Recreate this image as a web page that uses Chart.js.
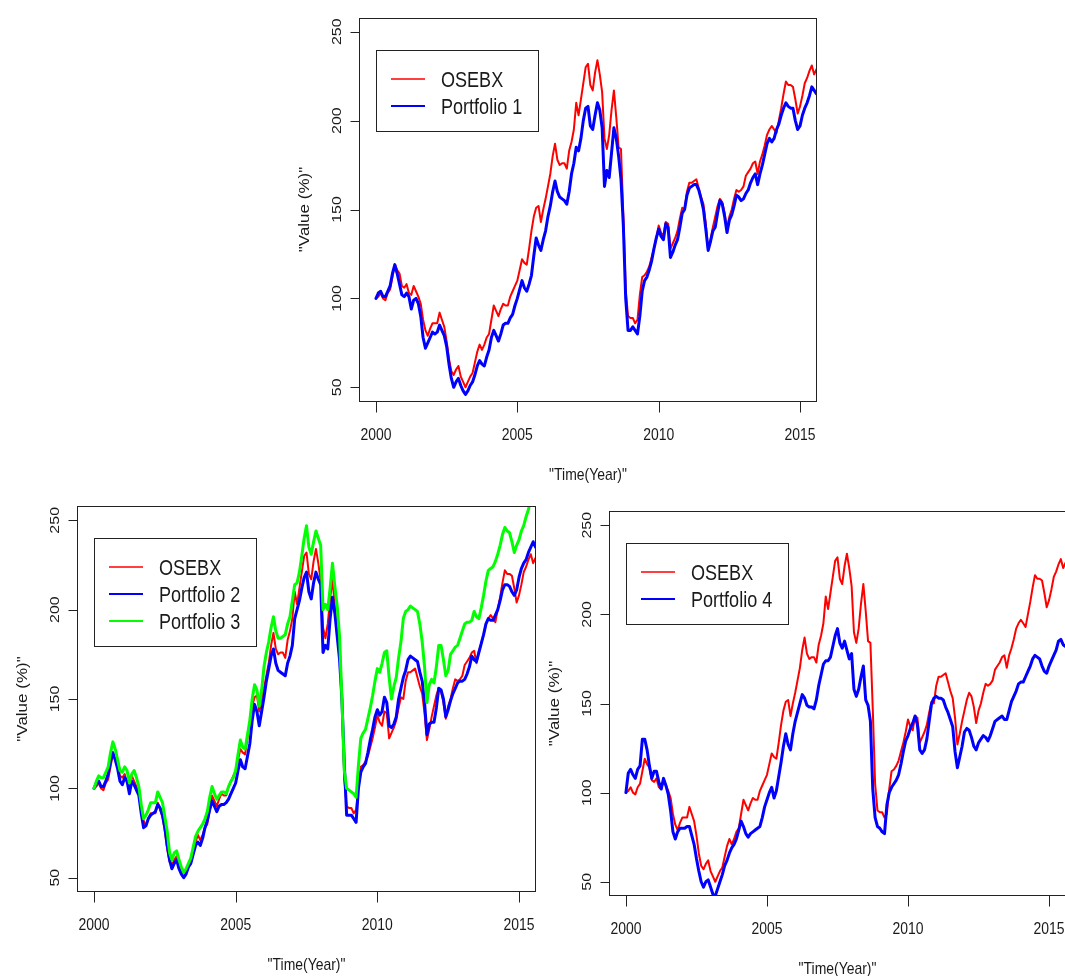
<!DOCTYPE html>
<html>
<head>
<meta charset="utf-8">
<script src="https://cdn.jsdelivr.net/npm/chart.js@4.4.1/dist/chart.umd.min.js"></script>
<style>
  html, body { margin: 0; padding: 0; background: #fff; width: 1065px; height: 976px; overflow: hidden; }
  canvas { position: absolute; }
</style>
</head>
<body>
<canvas id="c1" width="560" height="490" style="left:280px;top:0px"></canvas>
<canvas id="c2" width="560" height="486" style="left:0px;top:490px"></canvas>
<canvas id="c3" width="540" height="486" style="left:540px;top:490px"></canvas>
<script>
// monthly values, Jan 2000 .. Aug 2015 (index 100 at start)
const OSEBX = [
  100,101,103,100,99,103,105,112,119,116,114,107,
  106,108,103,102,107,104,101,97,88,82,79,83,
  86,86,86,92,88,84,76,66,59,57,60,62,
  56,53,50,53,56,58,64,70,74,71,74,78,
  80,88,96,93,90,94,97,96,96,101,104,107,
  110,116,122,120,119,128,138,146,151,152,143,150,
  156,163,170,180,187,178,175,176,176,173,183,188,
  195,210,203,212,221,230,232,220,217,227,234,226,
  216,190,184,192,206,217,202,185,184,147,105,90,
  89,89,86,88,102,112,113,115,118,123,128,134,
  141,137,135,143,142,128,131,134,138,145,151,150,
  160,165,165,166,167,162,157,153,142,127,133,140,
  146,152,156,154,148,139,146,150,156,161,160,161,
  163,169,171,173,176,177,170,177,181,186,192,195,
  197,195,193,200,207,215,222,220,220,219,212,204,
  208,214,221,224,228,231,226,229
];
const portfolio1 = [
  100,103,104,101,101,104,107,114,119,114,108,102,
  101,103,101,94,99,100,97,90,78,72,75,78,
  81,80,81,85,82,79,73,63,55,50,53,55,
  51,48,46,48,51,53,57,62,65,63,62,67,
  71,78,82,79,76,80,85,86,86,89,91,96,
  100,105,110,106,104,108,113,124,134,130,127,133,
  138,146,152,160,166,160,157,156,155,153,160,170,
  176,185,183,190,200,207,208,197,195,203,210,206,
  196,163,172,168,182,196,190,180,167,141,100,82,
  82,84,82,80,90,104,110,112,116,121,128,134,
  139,135,133,142,140,123,126,130,133,140,148,150,
  158,162,163,164,164,161,156,150,139,127,132,138,
  140,148,155,153,146,137,144,147,152,158,157,155,
  156,159,161,165,168,170,164,170,175,181,187,190,
  188,190,195,198,203,207,210,208,207,207,200,195,
  197,203,207,210,214,219,217,215
];
const portfolio2 = [
  100,103,104,101,101,104,108,115,120,116,111,104,
  102,106,104,97,104,102,99,96,86,78,79,83,
  85,86,87,91,89,85,78,68,60,55,58,60,
  55,52,50,52,56,58,63,68,70,68,72,78,
  82,88,93,90,87,90,91,91,92,94,97,100,
  103,110,116,112,111,118,125,138,147,143,135,143,
  151,160,167,174,178,170,166,165,164,163,170,174,
  180,195,200,205,212,218,221,210,206,215,221,217,
  214,176,180,178,195,207,198,185,172,150,114,85,
  85,85,83,81,100,109,112,114,120,127,133,140,
  144,141,143,151,148,135,134,136,140,150,156,162,
  166,172,174,173,172,171,165,160,148,130,136,137,
  137,145,156,155,150,140,144,149,153,156,159,160,
  160,161,164,168,174,172,171,176,181,186,192,195,
  194,194,197,200,205,211,214,214,213,210,208,211,
  218,223,226,228,232,235,238,235
];
const portfolio3 = [
  100,104,107,106,106,109,112,120,126,122,116,110,
  109,112,110,103,108,110,106,101,91,83,85,88,
  92,92,92,98,95,92,84,76,64,60,64,65,
  60,56,53,55,58,61,67,73,76,78,80,83,
  87,95,101,97,94,96,98,98,97,101,104,106,
  110,119,127,123,122,130,138,150,158,155,146,155,
  168,176,182,190,196,188,184,184,185,186,192,196,
  205,214,215,221,230,240,247,235,231,238,244,240,
  236,200,203,200,212,226,213,202,185,150,110,100,
  99,98,97,95,113,128,131,133,139,145,152,160,
  167,165,170,176,177,162,150,157,162,173,182,195,
  199,200,202,201,200,199,192,182,168,148,158,161,
  159,168,180,180,172,163,166,175,177,179,180,184,
  188,192,193,193,194,199,196,195,201,208,216,222,
  223,224,227,231,236,242,246,244,243,238,232,236,
  239,244,247,252,256,262,260,258
];
const portfolio4 = [
  100,111,113,110,108,113,115,130,130,124,115,108,
  112,112,106,102,108,104,99,90,78,74,78,80,
  80,80,81,81,76,71,63,56,50,47,50,51,
  47,43,42,46,50,54,59,62,66,69,71,74,
  79,84,81,77,75,77,78,79,80,81,86,92,
  96,100,103,97,101,109,117,126,133,127,124,133,
  140,145,150,155,153,149,148,148,147,152,160,166,
  172,174,174,176,182,188,192,184,181,185,180,175,
  178,158,154,158,165,171,152,149,140,102,86,81,
  80,78,77,93,100,103,105,107,110,116,123,129,
  132,136,139,143,138,124,122,124,130,140,150,153,
  154,153,153,152,148,145,141,137,123,114,120,126,
  134,136,135,131,126,124,128,130,132,131,129,132,
  136,140,141,142,143,141,141,146,151,154,157,161,
  162,162,165,168,171,175,177,176,175,171,168,167,
  171,174,177,180,185,186,183,182
];
const months = OSEBX.map((v, i) => 2000 + i / 12);

const xTicks = [2000, 2005, 2010, 2015];
const yTicks = [50, 100, 150, 200, 250];
const xTitle = '"Time(Year)"';
const yTitle = '"Value (%)"';

// the source picture is squeezed horizontally, so text is too
const SQ = 0.82;
const FONT = '"Liberation Sans", Arial, Helvetica, sans-serif';

function say(ctx, s, x, y, size, align, vertical) {
  ctx.save();
  ctx.translate(x, y);
  ctx.scale(SQ, 1);
  if (vertical) ctx.rotate(-Math.PI / 2);
  ctx.font = size + 'px ' + FONT;
  ctx.textAlign = align;
  ctx.textBaseline = 'alphabetic';
  ctx.fillStyle = '#1a1a1a';
  ctx.fillText(s, 0, 0);
  ctx.restore();
}

// R style box, axes and legend
const rFrame = {
  id: 'rFrame',
  afterDraw(chart) {
    const ctx = chart.ctx, a = chart.chartArea;
    const xs = chart.scales.x, ys = chart.scales.y;
    const L = Math.round(a.left) + 0.5, T = Math.round(a.top) + 0.5;
    const R = Math.round(a.right) - 0.5, B = Math.round(a.bottom) - 0.5;
    ctx.save();
    ctx.strokeStyle = '#222';
    ctx.lineWidth = 1;
    ctx.strokeRect(L, T, R - L, B - T);
    ctx.beginPath();
    xTicks.forEach(v => {
      const px = Math.round(xs.getPixelForValue(v)) + 0.5;
      ctx.moveTo(px, B); ctx.lineTo(px, B + 11);
    });
    yTicks.forEach(v => {
      const py = Math.round(ys.getPixelForValue(v)) + 0.5;
      ctx.moveTo(L, py); ctx.lineTo(L - 9, py);
    });
    ctx.stroke();

    xTicks.forEach(v => say(ctx, String(v), xs.getPixelForValue(v), a.bottom + 38, 17, 'center'));
    yTicks.forEach(v => say(ctx, String(v), a.left - 18, ys.getPixelForValue(v), 16, 'center', true));
    say(ctx, xTitle, (a.left + a.right) / 2, a.bottom + 78, 17, 'center');
    say(ctx, yTitle, a.left - 50, (a.top + a.bottom) / 2, 17, 'center', true);

    const items = chart.data.datasets;
    const lx = Math.round(a.left + 17), ly = Math.round(a.top + 32);
    const lw = 162, lh = 29 + (items.length - 1) * 27 + 25;
    ctx.fillStyle = '#fff';
    ctx.fillRect(lx, ly, lw, lh);
    ctx.strokeStyle = '#222';
    ctx.lineWidth = 1;
    ctx.strokeRect(lx + 0.5, ly + 0.5, lw, lh);
    items.forEach((d, k) => {
      const cy = ly + 29 + k * 27;
      ctx.strokeStyle = d.borderColor;
      ctx.lineWidth = d.borderWidth > 2 ? 2 : 1.5;
      ctx.beginPath();
      ctx.moveTo(lx + 15, cy); ctx.lineTo(lx + 49, cy);
      ctx.stroke();
      say(ctx, d.label, lx + 65, cy + 8, 22, 'left');
    });
    ctx.restore();
  }
};

function line(label, values, color, width, order) {
  return {
    label: label,
    data: values.map((v, i) => ({ x: months[i], y: v })),
    borderColor: color,
    borderWidth: width,
    pointRadius: 0,
    tension: 0,
    fill: false,
    borderJoinStyle: 'round',
    borderCapStyle: 'round',
    order: order
  };
}

function makeChart(id, datasets, padding) {
  const ctx = document.getElementById(id).getContext('2d');
  return new Chart(ctx, {
    type: 'line',
    data: { datasets: datasets },
    options: {
      responsive: false,
      animation: false,
      devicePixelRatio: 1,
      layout: { padding: padding },
      scales: {
        x: { type: 'linear', min: 1999.4, max: 2015.6, display: false },
        y: { type: 'linear', min: 42, max: 258, display: false }
      },
      plugins: { legend: { display: false }, tooltip: { enabled: false } }
    },
    plugins: [rFrame]
  });
}

makeChart('c1', [
  line('OSEBX', OSEBX, '#ff0000', 2, 3),
  line('Portfolio 1', portfolio1, '#0000ff', 3, 2)
], { left: 79, right: 23, top: 17.5, bottom: 88.5 });

makeChart('c2', [
  line('OSEBX', OSEBX, '#ff0000', 2, 3),
  line('Portfolio 2', portfolio2, '#0000ff', 3, 2),
  line('Portfolio 3', portfolio3, '#00ff00', 3, 1)
], { left: 77, right: 24, top: 16, bottom: 84 });

makeChart('c3', [
  line('OSEBX', OSEBX, '#ff0000', 2, 3),
  line('Portfolio 4', portfolio4, '#0000ff', 3, 2)
], { left: 69, right: 14, top: 21, bottom: 80 });
</script>
</body>
</html>
